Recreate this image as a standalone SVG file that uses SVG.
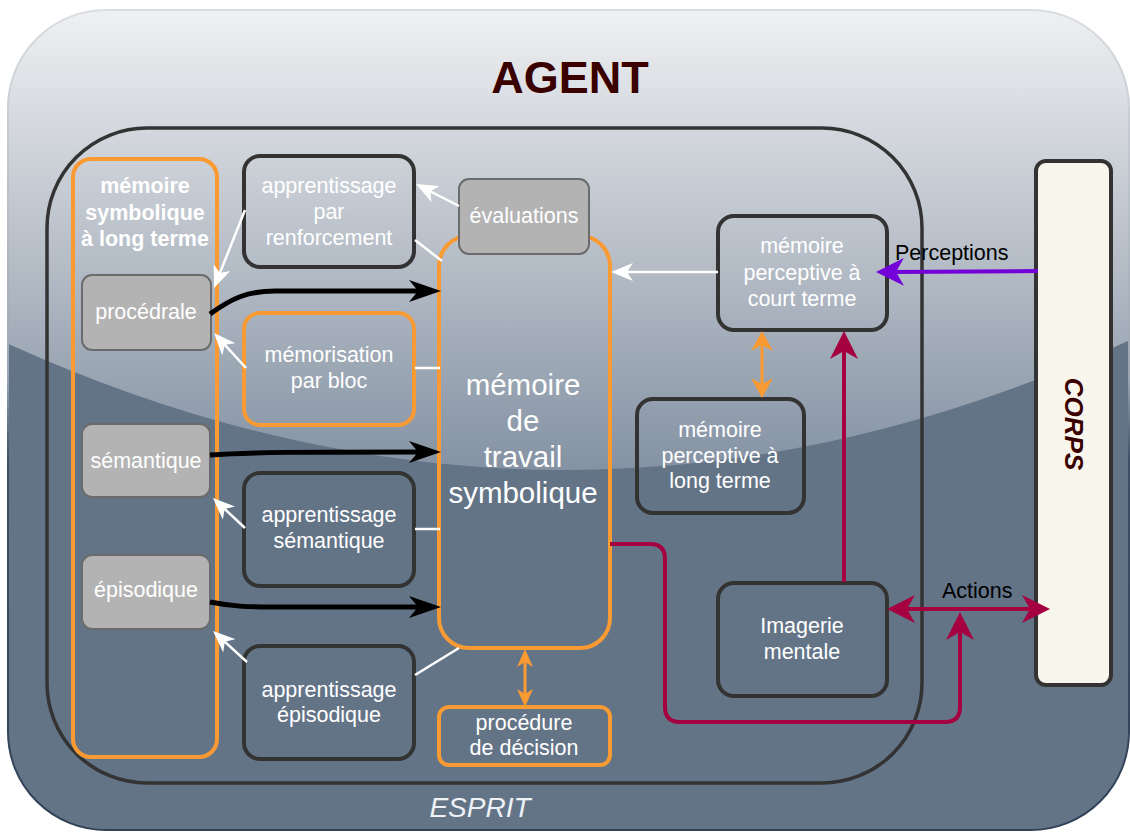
<svg xmlns="http://www.w3.org/2000/svg" width="1130" height="833" viewBox="0 0 1130 833">
<defs>
<style>
text{font-family:'Liberation Sans',Arial,Helvetica,sans-serif}
.t{font-size:21.5px;fill:#fff;text-anchor:middle}
.tb{font-size:21.5px;fill:#fff;text-anchor:middle;font-weight:bold}
.big{font-size:29.5px;fill:#fff;text-anchor:middle}
.lbl{font-size:21.5px;fill:#000}
.box{fill:none;stroke:#333;stroke-width:4}
.obox{fill:none;stroke:#f99a32;stroke-width:4}
.gbox{fill:#b3b3b3;stroke:#6b6b6b;stroke-width:2}
.w{stroke:#fff;stroke-width:2.5;fill:none}
.k{stroke:#000;stroke-width:5;fill:none}
.r{stroke:#a50040;stroke-width:4;fill:none}
.p{stroke:#7300d9;stroke-width:4;fill:none}
.o{stroke:#f99a32;stroke-width:3;fill:none}
</style>
<linearGradient id="gloss" gradientUnits="userSpaceOnUse" x1="0" y1="10" x2="0" y2="470">
<stop offset="0" stop-color="#eff0f2"/>
<stop offset="0.5" stop-color="#bac1ca"/>
<stop offset="1" stop-color="#8492a3"/>
</linearGradient>
<linearGradient id="edge" gradientUnits="userSpaceOnUse" x1="0" y1="10" x2="0" y2="830">
<stop offset="0" stop-color="#d9dde1"/>
<stop offset="0.45" stop-color="#9aa5b1"/>
<stop offset="0.55" stop-color="#3c4f65"/>
<stop offset="1" stop-color="#2f4258"/>
</linearGradient>
<clipPath id="outerClip"><rect x="8" y="10" width="1121" height="820" rx="98"/></clipPath>
<marker id="mW" viewBox="0 0 22 18" markerUnits="userSpaceOnUse" markerWidth="22" markerHeight="18" refX="10" refY="9" orient="auto"><path d="M0,0 L22,9 L0,18 L6,9 Z" fill="#fff"/></marker>
<marker id="mB" viewBox="0 0 32 22" markerUnits="userSpaceOnUse" markerWidth="32" markerHeight="22" refX="14" refY="11" orient="auto"><path d="M0,0 L32,11 L0,22 L9,11 Z" fill="#000"/></marker>
<marker id="mR" viewBox="0 0 28 28" markerUnits="userSpaceOnUse" markerWidth="28" markerHeight="28" refX="12" refY="14" orient="auto-start-reverse"><path d="M0,0 L28,14 L0,28 L8,14 Z" fill="#a50040"/></marker>
<marker id="mP" viewBox="0 0 28 28" markerUnits="userSpaceOnUse" markerWidth="28" markerHeight="28" refX="12" refY="14" orient="auto"><path d="M0,0 L28,14 L0,28 L8,14 Z" fill="#7300d9"/></marker>
<marker id="mO" viewBox="0 0 20 22" markerUnits="userSpaceOnUse" markerWidth="20" markerHeight="22" refX="8" refY="11" orient="auto-start-reverse"><path d="M0,0 L20,11 L0,22 L6,11 Z" fill="#f99a32"/></marker>
<marker id="mOs" viewBox="0 0 18 16" markerUnits="userSpaceOnUse" markerWidth="18" markerHeight="16" refX="7" refY="8" orient="auto-start-reverse"><path d="M0,0 L18,8 L0,16 L5,8 Z" fill="#f99a32"/></marker>
</defs>

<rect width="1130" height="833" fill="#fff"/>

<g id="agent">
<rect x="8" y="10" width="1121" height="820" rx="98" fill="#647487"/>
<path d="M0,340 Q565,600 1130,340 V0 H0 Z" fill="url(#gloss)" clip-path="url(#outerClip)"/>
<rect x="8" y="10" width="1121" height="820" rx="98" fill="none" stroke="url(#edge)" stroke-width="2"/>
<text x="570" y="93" style="font-size:45px;font-weight:bold;fill:#3a0000;text-anchor:middle">AGENT</text>
</g>

<g id="esprit">
<rect x="47" y="128" width="875" height="655" rx="100" fill="none" stroke="#333" stroke-width="3.5"/>
<text x="480" y="817" style="font-size:28px;font-style:italic;fill:#eef1f5;text-anchor:middle">ESPRIT</text>
</g>

<g id="corps">
<rect x="1036" y="161" width="75" height="524" rx="10" fill="#f8f5ed" stroke="#333" stroke-width="4"/>
<text transform="translate(1065,424) rotate(90)" style="font-size:26px;font-weight:bold;font-style:italic;fill:#3a0000;text-anchor:middle">CORPS</text>
</g>

<g id="memoire-symbolique">
<rect x="73" y="159" width="144" height="598" rx="18" class="obox"/>
<text class="tb" x="145" y="193">mémoire</text>
<text class="tb" x="145" y="220">symbolique</text>
<text class="tb" x="145" y="246">à long terme</text>
</g>

<g id="procedrale">
<rect x="82" y="275" width="129" height="75" rx="10" class="gbox"/>
<text class="t" x="146" y="319">procédrale</text>
</g>

<g id="semantique">
<rect x="82" y="424" width="128" height="73" rx="10" class="gbox"/>
<text class="t" x="146" y="468">sémantique</text>
</g>

<g id="episodique">
<rect x="82" y="555" width="128" height="74" rx="10" class="gbox"/>
<text class="t" x="146" y="597">épisodique</text>
</g>

<g id="apprentissage-renforcement">
<rect x="244" y="156" width="170" height="111" rx="16" class="box"/>
<text class="t" x="329" y="193">apprentissage</text>
<text class="t" x="329" y="219">par</text>
<text class="t" x="329" y="245">renforcement</text>
</g>

<g id="memorisation-bloc">
<rect x="244" y="313" width="170" height="112" rx="16" class="obox"/>
<text class="t" x="329" y="362">mémorisation</text>
<text class="t" x="329" y="388">par bloc</text>
</g>

<g id="apprentissage-semantique">
<rect x="244" y="473" width="170" height="113" rx="16" class="box"/>
<text class="t" x="329" y="522">apprentissage</text>
<text class="t" x="329" y="548">sémantique</text>
</g>

<g id="apprentissage-episodique">
<rect x="244" y="646" width="170" height="113" rx="16" class="box"/>
<text class="t" x="329" y="697">apprentissage</text>
<text class="t" x="329" y="722">épisodique</text>
</g>

<g id="memoire-travail">
<rect x="439" y="236" width="171" height="412" rx="30" class="obox"/>
<text class="big" x="523" y="395">mémoire</text>
<text class="big" x="523" y="431">de</text>
<text class="big" x="523" y="467">travail</text>
<text class="big" x="523" y="503">symbolique</text>
</g>

<g id="evaluations">
<rect x="459" y="179" width="130" height="75" rx="10" class="gbox"/>
<text class="t" x="524" y="223">évaluations</text>
</g>

<g id="procedure-decision">
<rect x="439" y="707" width="171" height="58" rx="10" class="obox"/>
<text class="t" x="524" y="730">procédure</text>
<text class="t" x="524" y="755">de décision</text>
</g>

<g id="perceptive-court">
<rect x="718" y="216" width="169" height="114" rx="16" class="box"/>
<text class="t" x="802" y="253">mémoire</text>
<text class="t" x="802" y="280">perceptive à</text>
<text class="t" x="802" y="306">court terme</text>
</g>

<g id="perceptive-long">
<rect x="637" y="399" width="167" height="114" rx="16" class="box"/>
<text class="t" x="720" y="437">mémoire</text>
<text class="t" x="720" y="463">perceptive à</text>
<text class="t" x="720" y="488">long terme</text>
</g>

<g id="imagerie">
<rect x="718" y="583" width="169" height="113" rx="16" class="box"/>
<text class="t" x="802" y="633">Imagerie</text>
<text class="t" x="802" y="659">mentale</text>
</g>

<g id="connectors">
<path class="w" d="M459,206 L426.7,189.5" marker-end="url(#mW)"/>
<path class="w" d="M415,240 L442,261"/>
<path class="w" d="M245,210 L218.4,276.8" marker-end="url(#mW)"/>
<path class="w" d="M246,368 L222.1,341.9" marker-end="url(#mW)"/>
<path class="w" d="M415,368 L440,368"/>
<path class="w" d="M245,528 L221.7,506.2" marker-end="url(#mW)"/>
<path class="w" d="M415,529 L440,529"/>
<path class="w" d="M247,662 L221.9,639.1" marker-end="url(#mW)"/>
<path class="w" d="M415,675 L459,648"/>
<path class="w" d="M718,272 L623,272" marker-end="url(#mW)"/>

<path class="k" d="M210,314 C232,298 248,291 275,291 L423,291" marker-end="url(#mB)"/>
<path class="k" d="M210,455 C250,452 300,452 423,452" marker-end="url(#mB)"/>
<path class="k" d="M210,602 C235,607 250,607 275,607 L423,607" marker-end="url(#mB)"/>

<path class="o" d="M525,660 L525,696" marker-start="url(#mOs)" marker-end="url(#mOs)"/>
<path class="o" d="M762,343 L762,386" marker-start="url(#mO)" marker-end="url(#mO)"/>

<path class="p" d="M1038,271 L892,272" marker-end="url(#mP)"/>
<text class="lbl" x="895" y="260">Perceptions</text>

<path class="r" d="M844,582 L844,347" marker-end="url(#mR)"/>
<path class="r" d="M610,544 L650,544 Q665,544 665,559 L665,707 Q665,722 680,722 L945,722 Q960,722 960,707 L960,628" marker-end="url(#mR)"/>
<path class="r" d="M903,609 L1034,609" marker-start="url(#mR)" marker-end="url(#mR)"/>
<text class="lbl" x="942" y="598">Actions</text>
</g>
</svg>
